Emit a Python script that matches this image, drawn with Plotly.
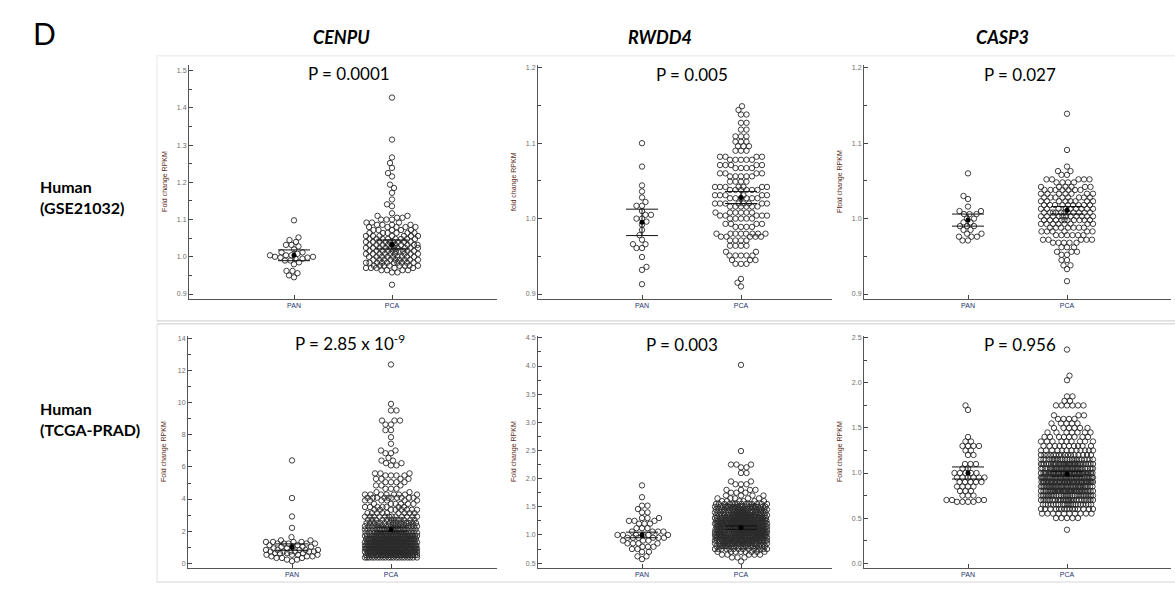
import numpy as np
import plotly.graph_objects as go

W, H = 1175, 592

# ---------------- data ----------------
GENES = ["CENPU", "RWDD4", "CASP3"]
ROW_LABELS = ["Human<br>(GSE21032)", "Human<br>(TCGA-PRAD)"]
GROUPS = ["PAN", "PCA"]
P_TEXT = ["P = 0.0001", "P = 0.005", "P = 0.027",
          "P = 2.85 x 10<sup>-9</sup>", "P = 0.003", "P = 0.956"]
Y_TITLES = ["Fold change RPKM", "fold change RPKM", "Ffold change RPKM",
            "Fold change RPKM", "Fold change RPKM", "Fold change RPKM"]

# each dot row of the swarm: value and number of dots at that value
cenpu_gse_pan_vals = [1.098, 1.052, 1.045, 1.040, 1.032, 1.028, 1.020, 1.012, 1.008, 1.004,
                      1.000, 0.998, 0.995, 0.990, 0.985, 0.980, 0.962, 0.956, 0.950, 0.945]
cenpu_gse_pan_counts = [1, 1, 1, 1, 2, 1, 1, 2, 1, 3, 2, 2, 2, 2, 1, 1, 2, 1, 1, 1]
cenpu_gse_pca_vals = [1.428, 1.315, 1.267, 1.252, 1.239, 1.225, 1.216, 1.194, 1.185, 1.172,
                      1.154, 1.141, 1.136, 1.117, 1.110, 1.105, 1.100, 1.092, 1.086, 1.080,
                      1.072, 1.064, 1.056, 1.048, 1.040, 1.032, 1.024, 1.016, 1.008, 1.000,
                      0.992, 0.984, 0.976, 0.970, 0.964, 0.958, 0.925]
cenpu_gse_pca_counts = [1, 1, 1, 1, 1, 1, 1, 1, 1, 1, 1, 1, 1, 1, 2, 2, 3, 3, 4, 5,
                        5, 6, 7, 8, 9, 10, 10, 10, 9, 9, 9, 10, 8, 5, 4, 2, 1]

rwdd4_gse_pan_vals = [1.100, 1.069, 1.044, 1.036, 1.028, 1.022, 1.017, 1.010, 1.005, 1.000, 0.996,
                      0.992, 0.985, 0.978, 0.972, 0.966, 0.961, 0.949, 0.936, 0.932, 0.913]
rwdd4_gse_pan_counts = [1, 1, 1, 1, 1, 1, 2, 1, 2, 2, 1, 1, 1, 1, 1, 2, 2, 1, 1, 1, 1]
rwdd4_gse_pca_vals = [1.149, 1.144, 1.138, 1.127, 1.118, 1.109, 1.102, 1.096, 1.090, 1.082,
                      1.078, 1.071, 1.067, 1.060, 1.056, 1.049, 1.042, 1.038, 1.031, 1.027,
                      1.020, 1.016, 1.008, 1.004, 1.000, 0.993, 0.989, 0.980, 0.976, 0.971,
                      0.964, 0.956, 0.951, 0.945, 0.940, 0.920, 0.915, 0.910]
rwdd4_gse_pca_counts = [1, 1, 2, 2, 2, 3, 3, 3, 3, 4, 5, 5, 4, 4, 5, 4, 7, 6, 6, 6,
                        8, 6, 6, 5, 5, 4, 4, 8, 5, 4, 4, 2, 5, 3, 3, 1, 1, 1]

casp3_gse_pan_vals = [1.060, 1.030, 1.026, 1.016, 1.010, 1.006, 1.000, 0.995, 0.990, 0.985,
                      0.980, 0.976, 0.971]
casp3_gse_pan_counts = [1, 1, 1, 1, 2, 3, 2, 2, 3, 2, 2, 3, 2]
casp3_gse_pca_vals = [1.139, 1.091, 1.069, 1.063, 1.058, 1.052, 1.048, 1.042, 1.038, 1.033,
                      1.028, 1.023, 1.018, 1.013, 1.008, 1.003, 0.998, 0.993, 0.988, 0.983,
                      0.978, 0.972, 0.968, 0.962, 0.956, 0.952, 0.945, 0.938, 0.933, 0.917]
casp3_gse_pca_counts = [1, 1, 1, 2, 2, 5, 4, 6, 7, 7, 8, 8, 9, 9, 11, 11, 10, 8, 7, 6,
                        6, 5, 5, 3, 3, 2, 2, 2, 1, 1]

cenpu_tcga_pan_vals = [6.41, 4.06, 2.91, 2.20, 1.62, 1.42, 1.32, 1.22, 1.12, 1.02, 0.92, 0.82,
                       0.72, 0.62, 0.52, 0.42, 0.32, 0.22, 0.12]
cenpu_tcga_pan_counts = [1, 1, 1, 1, 1, 2, 4, 5, 2, 4, 2, 5, 6, 4, 4, 3, 3, 2, 1]
cenpu_tcga_pca_vals = [12.4, 9.94, 9.53, 8.90, 8.65, 8.30, 7.86, 7.45, 7.03, 6.86, 6.57, 6.40,
                       6.24, 6.10, 5.60, 5.47, 5.26, 5.05, 4.85, 4.64, 4.43, 4.28, 4.08, 3.91,
                       3.70, 3.50, 3.33, 3.12, 2.90, 2.70, 2.50, 2.30, 2.10, 1.90, 1.70, 1.50,
                       1.30, 1.10, 0.90, 0.70, 0.50, 0.35]
cenpu_tcga_pca_counts = [1, 1, 2, 3, 2, 2, 1, 1, 2, 2, 1, 2, 2, 2, 3, 4, 4, 4, 3, 3, 2, 8, 10, 6,
                         6, 7, 8, 9, 12, 12, 15, 17, 20, 25, 30, 35, 43, 48, 48, 40, 35, 20]

rwdd4_tcga_pan_vals = [1.88, 1.67, 1.52, 1.46, 1.40, 1.30, 1.25, 1.20, 1.12, 1.06, 1.00, 0.95,
                       0.90, 0.85, 0.79, 0.75, 0.70, 0.62, 0.57]
rwdd4_tcga_pan_counts = [1, 1, 2, 1, 2, 3, 3, 3, 3, 4, 6, 6, 3, 4, 3, 2, 2, 2, 1]
rwdd4_tcga_pca_vals = [4.02, 2.49, 2.25, 2.20, 2.10, 1.95, 1.90, 1.80, 1.75, 1.70, 1.65, 1.60,
                       1.55, 1.50, 1.45, 1.40, 1.35, 1.30, 1.25, 1.20, 1.15, 1.10, 1.05, 1.00,
                       0.95, 0.90, 0.85, 0.80, 0.75, 0.70, 0.65, 0.60, 0.53]
rwdd4_tcga_pca_counts = [1, 1, 3, 2, 2, 2, 3, 4, 3, 4, 5, 6, 14, 25, 22, 25, 27, 30, 32, 34,
                         32, 32, 32, 30, 30, 30, 26, 20, 14, 8, 5, 3, 1]

casp3_tcga_pan_vals = [1.75, 1.70, 1.40, 1.35, 1.30, 1.25, 1.20, 1.10, 1.05, 1.00, 0.95, 0.90,
                       0.85, 0.80, 0.75, 0.70, 0.68]
casp3_tcga_pan_counts = [1, 1, 1, 2, 4, 2, 2, 3, 2, 5, 6, 5, 4, 3, 3, 4, 4]
casp3_tcga_pca_vals = [2.37, 2.08, 2.03, 1.85, 1.80, 1.75, 1.64, 1.60, 1.55, 1.50, 1.45, 1.40,
                       1.35, 1.30, 1.25, 1.20, 1.15, 1.10, 1.05, 1.00, 0.95, 0.90, 0.85, 0.80,
                       0.75, 0.70, 0.65, 0.60, 0.55, 0.50, 0.37]
casp3_tcga_pca_counts = [1, 1, 1, 2, 2, 6, 3, 4, 5, 6, 7, 8, 9, 10, 12, 16, 24, 32, 36, 40,
                         42, 42, 40, 36, 30, 26, 20, 15, 10, 5, 1]

# mean and error-bar half width (PAN, PCA) per panel
means = [[1.004, 1.033], [0.995, 1.028], [0.998, 1.011],
         [1.00, 2.10], [1.00, 1.13], [1.00, 0.99]]
half_widths = [[0.0145, 0.012], [0.0175, 0.008], [0.008, 0.005],
               [0.20, 0.15], [0.05, 0.03], [0.067, 0.025]]

panel_data = [
    [(cenpu_gse_pan_vals, cenpu_gse_pan_counts), (cenpu_gse_pca_vals, cenpu_gse_pca_counts)],
    [(rwdd4_gse_pan_vals, rwdd4_gse_pan_counts), (rwdd4_gse_pca_vals, rwdd4_gse_pca_counts)],
    [(casp3_gse_pan_vals, casp3_gse_pan_counts), (casp3_gse_pca_vals, casp3_gse_pca_counts)],
    [(cenpu_tcga_pan_vals, cenpu_tcga_pan_counts), (cenpu_tcga_pca_vals, cenpu_tcga_pca_counts)],
    [(rwdd4_tcga_pan_vals, rwdd4_tcga_pan_counts), (rwdd4_tcga_pca_vals, rwdd4_tcga_pca_counts)],
    [(casp3_tcga_pan_vals, casp3_tcga_pan_counts), (casp3_tcga_pca_vals, casp3_tcga_pca_counts)],
]

# ---------------- layout geometry (pixels) ----------------
XL = [189, 538, 864, 188, 538, 864]
XR = [497, 832, 1171, 497, 832, 1171]
XPAN = [294, 642, 968, 292, 642, 968]
XPCA = [392, 741, 1067, 391, 741, 1067]
YT = [63, 63, 63, 335, 335, 335]
YB = [298, 298, 298, 568, 568, 568]
YREF = [(1.5, 69, 0.9, 293), (1.2, 66, 0.9, 293), (1.2, 66, 0.9, 293),
        (14, 338, 0, 563), (4.5, 337, 0.5, 563), (2.5, 337, 0.0, 563)]
DTICK = [0.1, 0.1, 0.1, 2, 0.5, 0.5]
TICK0 = [0.9, 0.9, 0.9, 0, 0.5, 0.0]
MINOR = [0.05, 0.05, 0.05, 1, 0.25, 0.25]
TFMT = [".1f", ".1f", ".1f", "d", ".1f", ".1f"]
PX = [349, 692, 1020, 350, 682, 1020]
PY = [72, 73, 73, 342, 344, 344]

MSIZE = 5.4      # marker diameter (px)
DSEP = 5.1       # swarm spacing (px)
CAP = 26.0       # max half width of a swarm (px)


def fx(x):
    return x / W


def fy(y):
    return 1 - y / H


def swarm_offsets(ypx, d=DSEP, cap=CAP, step=0.5):
    ypx = np.asarray(ypx, dtype=float)
    n = len(ypx)
    order = np.argsort(ypx, kind="stable")
    base = np.arange(step, cap + 1e-9, step)
    candA = np.concatenate([[0.0], np.column_stack([base, -base]).ravel()])
    candB = -candA
    px = np.empty(n)
    py = np.empty(n)
    out = np.zeros(n)
    m = 0
    for k, i in enumerate(order):
        yi = ypx[i]
        cands = candA if k % 2 == 0 else candB
        x = 0.0
        if m:
            sel = np.abs(py[:m] - yi) < d
            if sel.any():
                nx = px[:m][sel]
                ny = py[:m][sel]
                dist = np.sqrt((cands[:, None] - nx[None, :]) ** 2 +
                               (yi - ny[None, :]) ** 2).min(axis=1)
                ok = dist >= d
                x = cands[np.argmax(ok)] if ok.any() else cands[np.argmax(dist)]
        px[m] = x
        py[m] = yi
        m += 1
        out[i] = x
    return out


fig = go.Figure()
layout = dict(
    width=W, height=H, margin=dict(l=0, r=0, t=0, b=0),
    paper_bgcolor="white", plot_bgcolor="rgba(0,0,0,0)",
    showlegend=False, shapes=[], annotations=[],
)

for p in range(6):
    v1, p1, v2, p2 = YREF[p]
    sy = (p2 - p1) / (v1 - v2)              # px per unit
    ytop = v1 + (p1 - YT[p]) / sy
    ybot = v2 - (YB[p] - p2) / sy
    unit = XPCA[p] - XPAN[p]                # px per category unit
    xr0 = 1 - (XPAN[p] - XL[p]) / unit
    xr1 = 2 + (XR[p] - XPCA[p]) / unit
    sfx = "" if p == 0 else str(p + 1)
    xa, ya = "x" + sfx, "y" + sfx

    layout["xaxis" + sfx] = dict(
        domain=[fx(XL[p]), fx(XR[p])], range=[xr0, xr1], anchor=ya,
        tickmode="array", tickvals=[1, 2], ticktext=GROUPS,
        ticks="inside", ticklen=4, tickwidth=1, tickcolor="#444",
        showline=True, linecolor="#555", linewidth=1, showgrid=False, zeroline=False,
        tickfont=dict(family="Liberation Sans, Arial", size=7, color="#23336e"),
        fixedrange=True,
    )
    layout["yaxis" + sfx] = dict(
        domain=[fy(YB[p]), fy(YT[p])], range=[ybot, ytop], anchor=xa,
        tick0=TICK0[p], dtick=DTICK[p], tickformat=TFMT[p],
        ticks="inside", ticklen=4, tickwidth=1, tickcolor="#444",
        minor=dict(dtick=MINOR[p], tick0=0, ticks="inside", ticklen=3,
                   tickcolor="#444", showgrid=False),
        showline=True, linecolor="#555", linewidth=1, showgrid=False, zeroline=False,
        tickfont=dict(family="Liberation Sans, Arial", size=7, color="#6e6e6e"),
        fixedrange=True,
    )

    for g in range(2):
        vals, counts = panel_data[p][g]
        yv = np.repeat(np.asarray(vals, dtype=float), counts)
        offs = swarm_offsets(yv * sy)
        xv = (g + 1) + offs / unit
        fig.add_trace(go.Scatter(
            x=xv, y=yv, mode="markers", xaxis=xa, yaxis=ya, hoverinfo="skip",
            marker=dict(symbol="circle-open", size=MSIZE, color="#2a2a2a",
                        line=dict(color="#2a2a2a", width=0.9)),
        ))

    for g in range(2):
        mu, hw = means[p][g], half_widths[p][g]
        c = g + 1
        e = 16 / unit
        fig.add_trace(go.Scatter(
            x=[c - e, c + e, None, c - e, c + e, None, c, c],
            y=[mu + hw, mu + hw, None, mu - hw, mu - hw, None, mu - hw, mu + hw],
            mode="lines", xaxis=xa, yaxis=ya, hoverinfo="skip",
            line=dict(color="#111", width=1),
        ))
        fig.add_trace(go.Scatter(
            x=[c], y=[mu], mode="markers", xaxis=xa, yaxis=ya, hoverinfo="skip",
            marker=dict(symbol="circle", size=5, color="black"),
        ))

    # y axis title
    layout["annotations"].append(dict(
        text=Y_TITLES[p], textangle=-90, xref="paper", yref="paper",
        x=fx(XL[p] - 24), y=fy((YT[p] + YB[p]) / 2), xanchor="center", yanchor="middle",
        showarrow=False, font=dict(family="Liberation Sans, Arial", size=7, color="#5b2b20"),
    ))
    # P value
    layout["annotations"].append(dict(
        text=P_TEXT[p], xref="paper", yref="paper", x=fx(PX[p]), y=fy(PY[p]),
        xanchor="center", yanchor="middle", showarrow=False,
        font=dict(family="Lato, Open Sans", size=17, color="black"),
    ))

# panel label, column headers, row labels
layout["annotations"].append(dict(
    text="D", xref="paper", yref="paper", x=fx(31), y=fy(31), xanchor="left",
    yanchor="middle", showarrow=False, font=dict(family="Lato, Open Sans", size=30, color="black"),
))
for gname, cx in zip(GENES, [341, 660, 1002]):
    layout["annotations"].append(dict(
        text="<b><i>" + gname + "</i></b>", xref="paper", yref="paper", x=fx(cx), y=fy(35),
        xanchor="center", yanchor="middle", showarrow=False,
        font=dict(family="Lato, Open Sans", size=18, color="black"),
    ))
for lab, cy in zip(ROW_LABELS, [196, 418]):
    layout["annotations"].append(dict(
        text="<b>" + lab + "</b>", xref="paper", yref="paper", x=fx(38), y=fy(cy),
        xanchor="left", yanchor="middle", align="left", showarrow=False,
        font=dict(family="Lato, Open Sans", size=16, color="black"),
    ))


# panel frames
def hline(x0, x1, y, color):
    return dict(type="line", xref="paper", yref="paper", x0=fx(x0), x1=fx(x1),
                y0=fy(y), y1=fy(y), line=dict(color=color, width=1), layer="below")


def vline(x, y0, y1, color):
    return dict(type="line", xref="paper", yref="paper", x0=fx(x), x1=fx(x),
                y0=fy(y0), y1=fy(y1), line=dict(color=color, width=1), layer="below")


layout["shapes"] += [
    hline(157, W, 54, "#e6e6e6"),
    vline(157, 54, 320, "#e6e6e6"),
    hline(157, W, 320, "#c9c9c9"),
    hline(157, W, 323, "#c9c9c9"),
    vline(157, 323, 582, "#e0e0e0"),
    hline(157, W, 582, "#d6d6d6"),
]

fig.update_layout(**layout)
fig.write_html("out.html", config={"displayModeBar": False},
               post_script="document.body.style.margin='0px';document.body.style.overflow='hidden';")
